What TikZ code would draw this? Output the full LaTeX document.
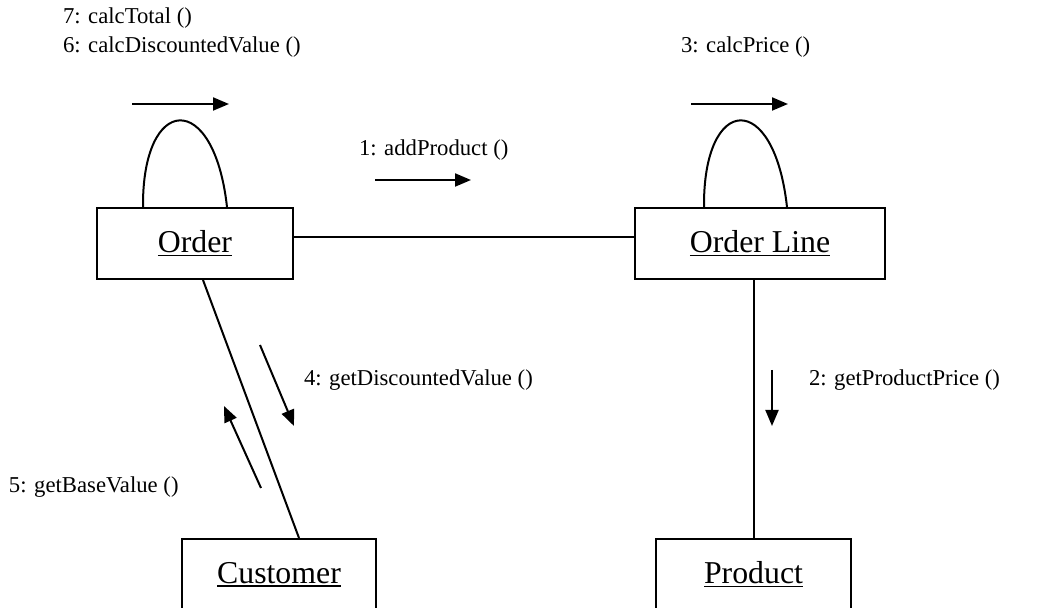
\documentclass[tikz,border=0pt]{standalone}
\usepackage{fontspec}
\setmainfont{Liberation Serif}
\usetikzlibrary{arrows.meta,calc}
\newcommand{\uline}[1]{\setbox0\hbox{#1}\rlap{\rule[-0.25ex]{\wd0}{0.9pt}}\box0}
\begin{document}
\begin{tikzpicture}[x=0.5pt,y=-0.5pt,line width=1pt,
  obj/.style={draw,rectangle,inner sep=0pt,font=\fontsize{15.9}{18}\selectfont},
  lbl/.style={anchor=west,inner sep=0pt,font=\fontsize{11.35}{13}\selectfont},
  msg/.style={-{Triangle[length=8pt,width=6.5pt]}},
  assoc/.style={draw}]
\useasboundingbox (0,0) rectangle (1060,608);
% objects
\node[obj,minimum width=98pt,minimum height=35.5pt] (Order) at (195,243.5) {\uline{Order}};
\node[obj,minimum width=125pt,minimum height=35.5pt] (OrderLine) at (760,243.5) {\uline{Order Line}};
\node[obj,minimum width=97pt,minimum height=35.5pt] (Customer) at (279,574.5) {\uline{Customer}};
\node[obj,minimum width=97.5pt,minimum height=35.5pt] (Product) at (753.5,574.5) {\uline{Product}};
% associations
\draw ($(Order.east)+(0,-6)$) -- ($(OrderLine.west)+(0,-6)$);
\draw ($(Order.south west)+(107,0)$) -- ($(Customer.north west)+(118,0)$);
\draw (Product.north |- OrderLine.south) -- (Product.north);
% self loops
\draw ($(Order.north west)+(47,0)$) .. controls ($(Order.north west)+(46,-113)$) and ($(Order.north west)+(118,-118)$) .. ($(Order.north west)+(131,0)$);
\draw ($(OrderLine.north west)+(70,0)$) .. controls ($(OrderLine.north west)+(69,-113)$) and ($(OrderLine.north west)+(140,-118)$) .. ($(OrderLine.north west)+(153,0)$);
% message arrows
\coordinate (a6s) at (132,104); \coordinate (a6e) at (229,104);
\coordinate (a3s) at (691,104); \coordinate (a3e) at (788,104);
\coordinate (a1s) at (375,180); \coordinate (a1e) at (471,180);
\coordinate (a4s) at (260,345); \coordinate (a4e) at (294,426);
\coordinate (a5s) at (261,488); \coordinate (a5e) at (224,406);
\coordinate (a2s) at (772,370); \coordinate (a2e) at (772,426);
\draw[msg] (a6s) -- (a6e);
\draw[msg] (a3s) -- (a3e);
\draw[msg] (a1s) -- (a1e);
\draw[msg] (a4s) -- (a4e);
\draw[msg] (a5s) -- (a5e);
\draw[msg] (a2s) -- (a2e);
% labels
\node[lbl] (t7) at (62,18) {7: calcTotal ()};
\node[lbl] (t6) at (62,47) {6: calcDiscountedValue ()};
\node[lbl] (t3) at (680,47) {3: calcPrice ()};
\node[lbl] (t1) at (358,150) {1: addProduct ()};
\node[lbl] (t4) at (303,380) {4: getDiscountedValue ()};
\node[lbl] (t2) at (808,380) {2: getProductPrice ()};
\node[lbl] (t5) at (8,487) {5: getBaseValue ()};
\end{tikzpicture}
\end{document}
